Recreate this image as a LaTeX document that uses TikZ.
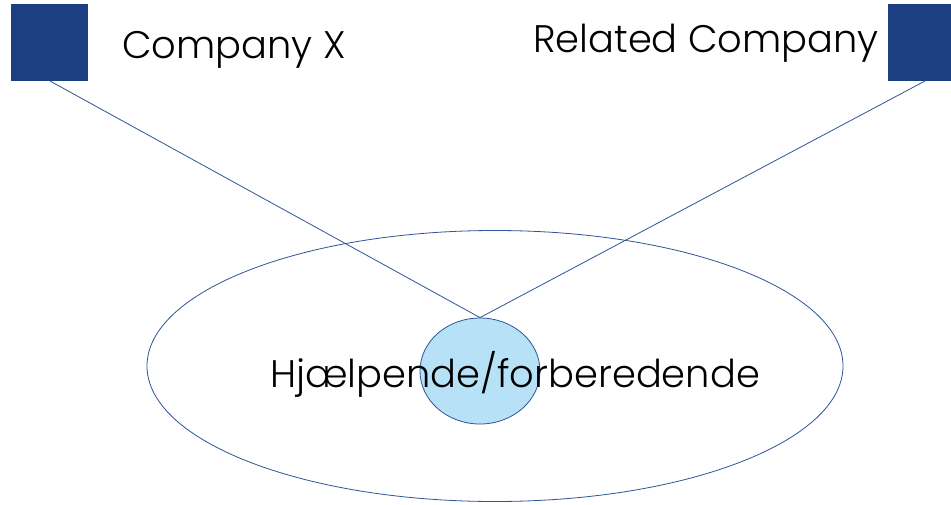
\documentclass[tikz,border=0pt]{standalone}
\usepackage{fontspec}
\setmainfont{Poppins Light}
\usetikzlibrary{shapes.geometric}
\definecolor{sqblue}{HTML}{1B3F80}
\definecolor{lineblue}{HTML}{2F5597}
\definecolor{lightblue}{HTML}{B7E1F6}
\tikzset{
  sq/.style={fill=sqblue, draw=none},
  conn/.style={draw=lineblue, line width=0.8pt},
  lbl/.style={inner sep=0pt, anchor=base west, font=\fontsize{38.4}{42}\selectfont},
}
\begin{document}
\begin{tikzpicture}[x=1pt,y=-1pt]
\useasboundingbox (0,0) rectangle (951,504);
\fill[white] (0,0) rectangle (951,504);
\node[ellipse, draw=lineblue, line width=0.8pt, minimum width=696pt, minimum height=271pt, inner sep=0pt] (big) at (495,366) {};
\node[ellipse, draw=lineblue, line width=0.8pt, fill=lightblue, minimum width=120pt, minimum height=106pt, inner sep=0pt] (small) at (480,371) {};
\node[lbl] (txt) at (270,387) {Hjælpende/forberedende};
\node[sq, minimum width=77pt, minimum height=77pt, inner sep=0pt] (sqL) at (49.5,42.5) {};
\node[sq, minimum width=63pt, minimum height=77pt, inner sep=0pt] (sqR) at (919.5,42.5) {};
\coordinate (aL) at (50,81);
\coordinate (aR) at (925,81);
\node[lbl] (cx) at (122,58) {Company X};
\node[lbl] (rc) at (533,52) {Related Company};
\draw[conn] (aL) -- (small.north);
\draw[conn] (aR) -- (small.north);
\end{tikzpicture}
\end{document}
